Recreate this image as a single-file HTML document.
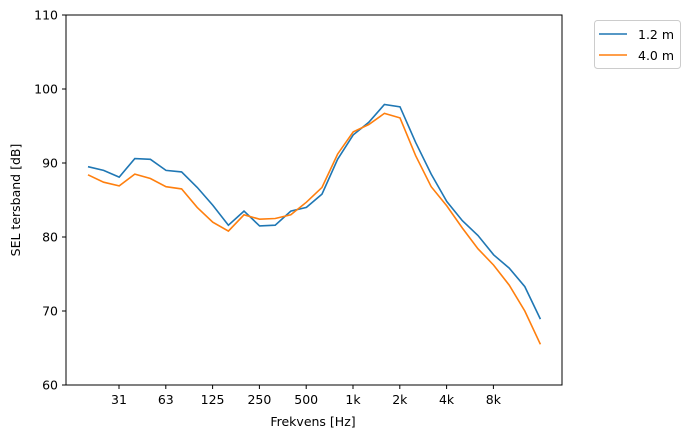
<!DOCTYPE html>
<html><head><meta charset="utf-8"><style>
body{margin:0;background:#fff;width:693px;height:438px;overflow:hidden}
text{font-family:"DejaVu Sans","Liberation Sans",sans-serif;font-size:12.5px;fill:#000}
</style></head><body>
<svg id="s" width="693" height="438" xmlns="http://www.w3.org/2000/svg">
<rect x="66" y="15" width="496" height="370" fill="#fff" stroke="#000" stroke-width="1"/>
<g id="yt"></g>
<g id="xt"></g>
<polyline id="b" fill="none" stroke="#1f77b4" stroke-width="1.6"/>
<polyline id="o" fill="none" stroke="#ff7f0e" stroke-width="1.6"/>
<text x="313" y="426" text-anchor="middle">Frekvens [Hz]</text>
<text transform="translate(20,200) rotate(-90)" text-anchor="middle">SEL tersband [dB]</text>
<rect x="594.5" y="20.5" width="86" height="48" rx="3" fill="#fff" stroke="#ccc"/>
<line x1="599" y1="34" x2="627" y2="34" stroke="#1f77b4" stroke-width="1.6"/>
<text x="638" y="39">1.2 m</text>
<line x1="599" y1="55" x2="627" y2="55" stroke="#ff7f0e" stroke-width="1.6"/>
<text x="638" y="60">4.0 m</text>
</svg>
<script>
var ns="http://www.w3.org/2000/svg";
function el(t,a,p,txt){var e=document.createElementNS(ns,t);for(var k in a)e.setAttribute(k,a[k]);if(txt)e.textContent=txt;document.getElementById(p).appendChild(e);}
function Y(v){return 385-(v-60)*7.4;}
for(var v=60;v<=110;v+=10){var y=Y(v);el("line",{x1:62,y1:y,x2:66,y2:y,stroke:"#000"},"yt");el("text",{x:58,y:y+4.5,"text-anchor":"end"},"yt",v);}
var xl=["31","63","125","250","500","1k","2k","4k","8k"];
for(var i=0;i<9;i++){var x=119+i*46.8;el("line",{x1:x,y1:385,x2:x,y2:389,stroke:"#000"},"xt");el("text",{x:x,y:404,"text-anchor":"middle"},"xt",xl[i]);}
var B=[89.5,89.0,88.1,90.6,90.5,89.0,88.8,86.7,84.3,81.6,83.5,81.5,81.6,83.5,84.0,85.8,90.5,93.8,95.5,97.9,97.6,92.8,88.5,84.8,82.2,80.2,77.6,75.8,73.3,68.9];
var O=[88.4,87.4,86.9,88.5,87.9,86.8,86.5,84.0,82.0,80.8,83.0,82.4,82.5,83.0,84.7,86.7,91.2,94.2,95.2,96.7,96.1,91.0,86.8,84.2,81.2,78.4,76.2,73.5,70.0,65.5];
function pts(a){return a.map(function(v,i){return (88+i*15.6).toFixed(1)+","+Y(v).toFixed(1)}).join(" ");}
document.getElementById("b").setAttribute("points",pts(B));
document.getElementById("o").setAttribute("points",pts(O));
</script>
</body></html>
